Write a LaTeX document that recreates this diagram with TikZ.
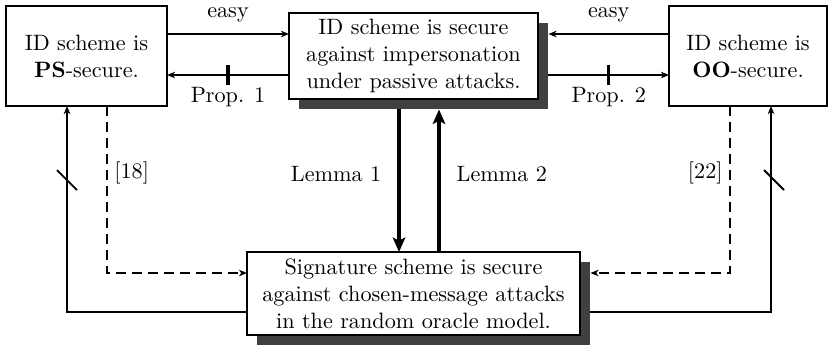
\documentclass[tikz,border=0pt]{standalone}
\usetikzlibrary{arrows.meta,shadows,calc}

\tikzset{
  box/.style={draw, line width=0.9pt, fill=white, align=center,
    inner sep=0pt, outer sep=0pt, font=\fontsize{10}{12.2}\selectfont},
  shbox/.style={box, drop shadow={shadow xshift=4.7pt, shadow yshift=-4.7pt,
    fill=black!75, opacity=1}},
  arr/.style={line width=0.7pt, -{Stealth[length=3.6pt,width=2.9pt,inset=1pt]}},
  lemarr/.style={line width=1.9pt, -{Stealth[length=6.5pt,width=5.6pt,inset=1.4pt]}},
  dsh/.style={dash pattern=on 4.5pt off 2.7pt},
  tickmark/.style={line width=1.4pt},
  slash/.style={line width=0.8pt},
  lbl/.style={font=\fontsize{10}{12}\selectfont, inner sep=1pt}
}

\begin{document}
\begin{tikzpicture}[x=0.45pt, y=-0.45pt]
  \useasboundingbox (0,0) rectangle (829,347);

  % the four statements
  \node[box, minimum width=72.45pt, minimum height=45pt] (l) at (86.5,56)
    {ID scheme is\\\textbf{PS}-secure.};
  \node[shbox, minimum width=112.05pt, minimum height=38.7pt] (c) at (413.5,56)
    {ID scheme is secure\\against impersonation\\under passive attacks.};
  \node[box, minimum width=71.1pt, minimum height=45pt] (r) at (748,56)
    {ID scheme is\\\textbf{OO}-secure.};
  \node[shbox, minimum width=149.85pt, minimum height=37.35pt] (b) at (413.5,293.5)
    {Signature scheme is secure\\against chosen-message attacks\\in the random oracle model.};

  % outer edges of the shadows
  \coordinate (cs) at ([xshift=4.7pt]c.east);
  \coordinate (cb) at ([yshift=-4.7pt]c.south);
  \coordinate (bs) at ([xshift=4.7pt]b.east);

  % PS <-> passive
  \draw[arr] (l.east |- 0,34) -- node[lbl, above=4pt] {easy} (c.west |- 0,34);
  \draw[arr] (c.west |- 0,75) -- coordinate[pos=0.5] (t1)
    node[lbl, below=4pt] {Prop. 1} (l.east |- 0,75);
  \draw[tickmark] ([yshift=4.6pt]t1) -- ([yshift=-4.6pt]t1);

  % OO <-> passive
  \draw[arr] (r.west |- 0,34) -- node[lbl, above=4pt] {easy} (cs |- 0,34);
  \draw[arr] (cs |- 0,75) -- coordinate[pos=0.5] (t2)
    node[lbl, below=4pt] {Prop. 2} (r.west |- 0,75);
  \draw[tickmark] ([yshift=4.6pt]t2) -- ([yshift=-4.6pt]t2);

  % passive <-> signature
  \draw[lemarr] (cb -| 399,0) -- node[lbl, left=6pt, pos=0.45] {Lemma 1} (b.north -| 399,0);
  \draw[lemarr] (b.north -| 439,0) -- node[lbl, right=6pt, pos=0.55] {Lemma 2} (cb -| 439,0);

  % PS <-> signature
  \draw[arr, dsh] (l.south -| 107,0) |- node[lbl, right=2pt, pos=0.2] {[18]} (b.west |- 0,273);
  \draw[arr] (b.west |- 0,312) -| (l.south -| 67,0);
  \draw[slash] (67,180) ++(-10,-10) -- ++(20,20);

  % OO <-> signature
  \draw[arr, dsh] (r.south -| 730,0) |- node[lbl, left=2pt, pos=0.2] {[22]} (bs |- 0,273);
  \draw[arr] (bs |- 0,312) -| (r.south -| 771,0);
  \draw[slash] (774,180) ++(-10,-10) -- ++(20,20);
\end{tikzpicture}
\end{document}
